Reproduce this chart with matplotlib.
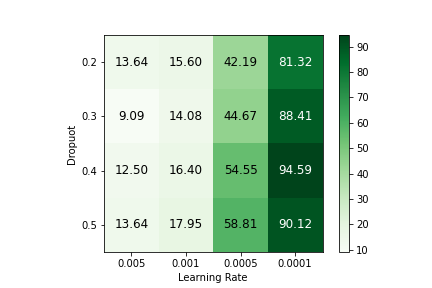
import numpy as np
import matplotlib
matplotlib.use("Agg")
import matplotlib.pyplot as plt

learning_rates = ["0.005", "0.001", "0.0005", "0.0001"]
dropouts = ["0.2", "0.3", "0.4", "0.5"]
acc = np.array([
    [13.64, 15.60, 42.19, 81.32],
    [9.09, 14.08, 44.67, 88.41],
    [12.50, 16.40, 54.55, 94.59],
    [13.64, 17.95, 58.81, 90.12],
])

fig = plt.figure(figsize=(6, 4), dpi=72)
ax = fig.add_axes([104 / 432, 36 / 288, 218.5 / 432, 217 / 288])
cax = fig.add_axes([339.3 / 432, 36 / 288, 10 / 432, 217 / 288])
im = ax.imshow(acc, cmap="Greens", aspect="auto")
fig.colorbar(im, cax=cax)

ax.set_xticks(np.arange(len(learning_rates)))
ax.set_xticklabels(learning_rates)
ax.set_yticks(np.arange(len(dropouts)))
ax.set_yticklabels(dropouts)
ax.set_xlabel("Learning Rate")
ax.set_ylabel("Dropuot")

for i in range(len(dropouts)):
    for j in range(len(learning_rates)):
        v = acc[i, j]
        ax.text(j, i, "%.2f" % v, ha="center", va="center",
                color="w" if v > 70 else "k", fontsize=12)

plt.savefig("out.png", dpi=72)
